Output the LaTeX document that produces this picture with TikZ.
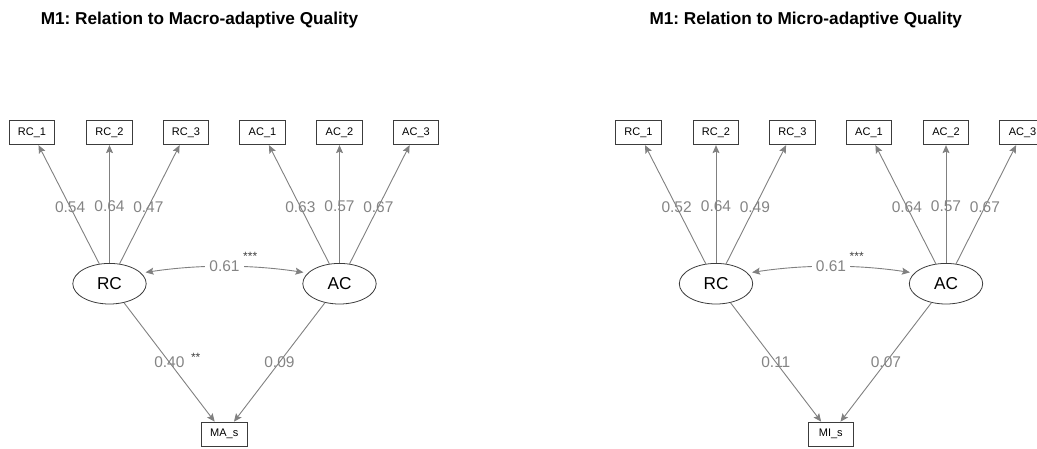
\documentclass[tikz,border=0pt]{standalone}
\usepackage{fontspec}
\setmainfont{Liberation Sans}
\usetikzlibrary{shapes.geometric,arrows.meta}
\frenchspacing

\definecolor{edgegray}{RGB}{128,128,128}
\definecolor{labgray}{RGB}{132,132,132}
\definecolor{framegray}{RGB}{60,60,60}

\begin{document}
\begin{tikzpicture}[x=1pt,y=-1pt,
  paneltitle/.style={font=\fontsize{17.2}{20}\selectfont\bfseries, anchor=base, inner sep=0},
  manifest/.style={draw=framegray, line width=0.8pt, rectangle, minimum width=45.5pt,
    minimum height=24.5pt, inner sep=0, font=\fontsize{11}{13}\selectfont},
  latent/.style={draw=framegray, line width=0.8pt, ellipse, minimum width=73.4pt,
    minimum height=40.6pt, inner sep=0, font=\fontsize{17.2}{20}\selectfont},
  tip/.tip={Stealth[length=8pt,width=7pt,inset=1.5pt]},
  link/.style={draw=edgegray, line width=0.9pt, -tip},
  twoway/.style={draw=edgegray, line width=0.9pt, tip-tip},
  wt/.style={text=labgray, font=\fontsize{15.5}{18}\selectfont, inner sep=0},
  covwt/.style={wt, fill=white, inner xsep=4pt, inner ysep=1pt},
  stars/.style={text=black!75, font=\fontsize{12}{14}\selectfont, inner sep=0, anchor=base west}
]
\useasboundingbox (0,0) rectangle (1037,448);
\clip (0,0) rectangle (1037,448);

% ---------------- Macro-adaptive model ----------------
\node[paneltitle] (L-title) at (199.5,24.5) {M1: Relation to Macro-adaptive Quality};

\node[manifest] (L-rc1) at (32,132.5)    {RC\_1};
\node[manifest] (L-rc2) at (109.5,132.5) {RC\_2};
\node[manifest] (L-rc3) at (186,132.5)   {RC\_3};
\node[manifest] (L-ac1) at (262.5,132.5) {AC\_1};
\node[manifest] (L-ac2) at (339.5,132.5) {AC\_2};
\node[manifest] (L-ac3) at (416,132.5)   {AC\_3};

\node[latent] (L-rc) at (109.5,283.7) {RC};
\node[latent] (L-ac) at (339.5,283.7) {AC};

\node[manifest] (L-out) at (224.3,434.3) {MA\_s};

\draw[link] (L-rc) -- node[wt,pos=0.48] {0.54} (L-rc1);
\draw[link] (L-rc) -- node[wt,pos=0.48] {0.64} (L-rc2);
\draw[link] (L-rc) -- node[wt,pos=0.48] {0.47} (L-rc3);
\draw[link] (L-ac) -- node[wt,pos=0.48] {0.63} (L-ac1);
\draw[link] (L-ac) -- node[wt,pos=0.48] {0.57} (L-ac2);
\draw[link] (L-ac) -- node[wt,pos=0.48] {0.67} (L-ac3);

\draw[twoway] ([xshift=5pt]L-rc.20) .. controls +(53,-8) and +(-53,-8) ..
  node[covwt] (L-cov) {0.61} ([xshift=-5pt]L-ac.160);
\node[stars] (L-covsig) at ([xshift=-1pt,yshift=6pt]L-cov.east) {***};

\draw[link] (L-rc) -- node[wt] (L-b1) {0.40} (L-out);
\draw[link] (L-ac) -- node[wt] (L-b2) {0.09} (L-out);
\node[stars] (L-b1sig) at ([xshift=6pt,yshift=1pt]L-b1.east) {**};

% ---------------- Micro-adaptive model ----------------
\node[paneltitle] (R-title) at (805.8,24.5) {M1: Relation to Micro-adaptive Quality};

\node[manifest] (R-rc1) at (638.5,132.5) {RC\_1};
\node[manifest] (R-rc2) at (716,132.5)   {RC\_2};
\node[manifest] (R-rc3) at (792.5,132.5) {RC\_3};
\node[manifest] (R-ac1) at (869,132.5)   {AC\_1};
\node[manifest] (R-ac2) at (946,132.5)   {AC\_2};
\node[manifest] (R-ac3) at (1022.5,132.5) {AC\_3};

\node[latent] (R-rc) at (716,283.7) {RC};
\node[latent] (R-ac) at (946,283.7) {AC};

\node[manifest] (R-out) at (830.8,434.3) {MI\_s};

\draw[link] (R-rc) -- node[wt,pos=0.48] {0.52} (R-rc1);
\draw[link] (R-rc) -- node[wt,pos=0.48] {0.64} (R-rc2);
\draw[link] (R-rc) -- node[wt,pos=0.48] {0.49} (R-rc3);
\draw[link] (R-ac) -- node[wt,pos=0.48] {0.64} (R-ac1);
\draw[link] (R-ac) -- node[wt,pos=0.48] {0.57} (R-ac2);
\draw[link] (R-ac) -- node[wt,pos=0.48] {0.67} (R-ac3);

\draw[twoway] ([xshift=5pt]R-rc.20) .. controls +(53,-8) and +(-53,-8) ..
  node[covwt] (R-cov) {0.61} ([xshift=-5pt]R-ac.160);
\node[stars] (R-covsig) at ([xshift=-1pt,yshift=6pt]R-cov.east) {***};

\draw[link] (R-rc) -- node[wt] (R-b1) {0.11} (R-out);
\draw[link] (R-ac) -- node[wt] (R-b2) {0.07} (R-out);
\end{tikzpicture}
\end{document}
